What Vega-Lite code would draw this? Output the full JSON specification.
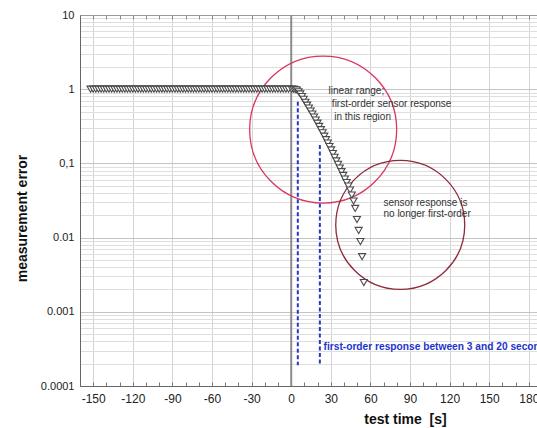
{
  "$schema": "https://vega.github.io/schema/vega-lite/v6.json",
  "width": 457,
  "height": 371,
  "autosize": {"type": "none"},
  "padding": {"left": 80, "top": 15, "right": 0, "bottom": 42},
  "background": "white",
  "config": {"font": "Liberation Sans", "view": {"stroke": null}},
  "datasets": {
    "zero": [{"t": 0}],
    "guides": [
      {"t": 5, "err": 0.678, "bottom": 0.00019},
      {"t": 21.7, "err": 0.177, "bottom": 0.00019}
    ],
    "rings": [
      {"name": "linear", "t": 24.2, "err": 0.286},
      {"name": "nonlinear", "t": 82.6, "err": 0.0148}
    ],
    "notes": [
      {"t": 28.3, "err": 0.955, "label": "linear range;"},
      {"t": 30.8, "err": 0.632, "label": "first-order sensor response"},
      {"t": 32.6, "err": 0.426, "label": "in this region"},
      {"t": 69.9, "err": 0.0295, "label": "sensor response is"},
      {"t": 69.9, "err": 0.0208, "label": "no longer first-order"}
    ],
    "bluenote": [
      {"t": 24.5, "err": 0.000339, "label": "first-order response between 3 and 20 seconds"}
    ],
    "series": [
      {"t": -152, "err": 1}, {"t": -150, "err": 1}, {"t": -148, "err": 1}, {"t": -146, "err": 1},
      {"t": -144, "err": 1}, {"t": -142, "err": 1}, {"t": -140, "err": 1}, {"t": -138, "err": 1},
      {"t": -136, "err": 1}, {"t": -134, "err": 1}, {"t": -132, "err": 1}, {"t": -130, "err": 1},
      {"t": -128, "err": 1}, {"t": -126, "err": 1}, {"t": -124, "err": 1}, {"t": -122, "err": 1},
      {"t": -120, "err": 1}, {"t": -118, "err": 1}, {"t": -116, "err": 1}, {"t": -114, "err": 1},
      {"t": -112, "err": 1}, {"t": -110, "err": 1}, {"t": -108, "err": 1}, {"t": -106, "err": 1},
      {"t": -104, "err": 1}, {"t": -102, "err": 1}, {"t": -100, "err": 1}, {"t": -98, "err": 1},
      {"t": -96, "err": 1}, {"t": -94, "err": 1}, {"t": -92, "err": 1}, {"t": -90, "err": 1},
      {"t": -88, "err": 1}, {"t": -86, "err": 1}, {"t": -84, "err": 1}, {"t": -82, "err": 1},
      {"t": -80, "err": 1}, {"t": -78, "err": 1}, {"t": -76, "err": 1}, {"t": -74, "err": 1},
      {"t": -72, "err": 1}, {"t": -70, "err": 1}, {"t": -68, "err": 1}, {"t": -66, "err": 1},
      {"t": -64, "err": 1}, {"t": -62, "err": 1}, {"t": -60, "err": 1}, {"t": -58, "err": 1},
      {"t": -56, "err": 1}, {"t": -54, "err": 1}, {"t": -52, "err": 1}, {"t": -50, "err": 1},
      {"t": -48, "err": 1}, {"t": -46, "err": 1}, {"t": -44, "err": 1}, {"t": -42, "err": 1},
      {"t": -40, "err": 1}, {"t": -38, "err": 1}, {"t": -36, "err": 1}, {"t": -34, "err": 1},
      {"t": -32, "err": 1}, {"t": -30, "err": 1}, {"t": -28, "err": 1}, {"t": -26, "err": 1},
      {"t": -24, "err": 1}, {"t": -22, "err": 1}, {"t": -20, "err": 1}, {"t": -18, "err": 1},
      {"t": -16, "err": 1}, {"t": -14, "err": 1}, {"t": -12, "err": 1}, {"t": -10, "err": 1},
      {"t": -8, "err": 1}, {"t": -6, "err": 1}, {"t": -4, "err": 1}, {"t": -2, "err": 1},
      {"t": 0.4, "err": 1}, {"t": 1.7, "err": 1}, {"t": 3.0, "err": 0.99}, {"t": 4.3, "err": 0.975},
      {"t": 5.6, "err": 0.923}, {"t": 6.9, "err": 0.862}, {"t": 8.2, "err": 0.795}, {"t": 9.5, "err": 0.729},
      {"t": 10.8, "err": 0.666}, {"t": 12.1, "err": 0.609}, {"t": 13.4, "err": 0.556}, {"t": 14.7, "err": 0.508},
      {"t": 16.0, "err": 0.463}, {"t": 17.3, "err": 0.422}, {"t": 18.6, "err": 0.383}, {"t": 19.9, "err": 0.348},
      {"t": 21.2, "err": 0.315}, {"t": 22.5, "err": 0.285}, {"t": 23.8, "err": 0.258}, {"t": 25.1, "err": 0.233},
      {"t": 26.4, "err": 0.209}, {"t": 27.7, "err": 0.188}, {"t": 29.0, "err": 0.169}, {"t": 30.3, "err": 0.152},
      {"t": 31.6, "err": 0.136}, {"t": 32.9, "err": 0.121}, {"t": 34.2, "err": 0.108}, {"t": 35.5, "err": 0.097},
      {"t": 36.8, "err": 0.0867}, {"t": 38.1, "err": 0.0773}, {"t": 39.4, "err": 0.0689}, {"t": 40.7, "err": 0.0614},
      {"t": 42.0, "err": 0.0553}, {"t": 43.3, "err": 0.0496}, {"t": 44.6, "err": 0.0438}, {"t": 45.9, "err": 0.0375},
      {"t": 47.2, "err": 0.0311}, {"t": 48.5, "err": 0.0247}, {"t": 49.8, "err": 0.01754}, {"t": 51.1, "err": 0.01247},
      {"t": 52.4, "err": 0.00886}, {"t": 53.7, "err": 0.00553}, {"t": 55.0, "err": 0.00248}
    ]
  },
  "encoding": {
    "y": {
      "field": "err", "type": "quantitative",
      "scale": {"type": "log", "domain": [0.0001, 10], "nice": false},
      "axis": {
        "orient": "left",
        "title": "measurement error",
        "values": [0.0001,0.0002,0.0003,0.0004,0.0005,0.0006,0.0007,0.0008,0.0009,0.001,0.002,0.003,0.004,0.005,0.006,0.007,0.008,0.009,0.01,0.02,0.03,0.04,0.05,0.06,0.07,0.08,0.09,0.1,0.2,0.3,0.4,0.5,0.6,0.7,0.8,0.9,1,2,3,4,5,6,7,8,9,10],
        "labelExpr": "abs(datum.value-10)<0.000000001 ? '10' : abs(datum.value-1)<0.000000001 ? '1' : abs(datum.value-0.1)<0.0000000001 ? '0,1' : abs(datum.value-0.01)<0.00000000001 ? '0.01' : abs(datum.value-0.001)<0.000000000001 ? '0.001' : abs(datum.value-0.0001)<0.0000000000001 ? '0.0001' : ''",
        "labelFontSize": 11,
        "labelColor": "#222222",
        "labelPadding": 6,
        "labelFlush": false,
        "labelOverlap": false,
        "ticks": false,
        "domainColor": "#666666",
        "grid": true,
        "gridColor": {"condition": {"test": "abs(log(datum.value)/LN10 - round(log(datum.value)/LN10)) < 0.001", "value": "#c4c4c4"}, "value": "#dedede"},
        "titleFontSize": 14,
        "titleFontWeight": "bold",
        "titleColor": "#111111",
        "titleX": -53.5,
        "titleY": 203,
        "titleBaseline": "alphabetic"
      }
    }
  },
  "layer": [
    {
      "data": {"name": "zero"},
      "mark": {"type": "rule", "color": "#8c8c8c", "strokeWidth": 2},
      "encoding": {
        "y": null,
        "x": {
          "field": "t", "type": "quantitative",
          "scale": {"type": "linear", "domain": [-160, 186.2], "nice": false, "zero": false},
          "axis": {
            "orient": "bottom",
            "title": "test time\u00a0 [s]",
            "values": [-160,-150,-140,-130,-120,-110,-100,-90,-80,-70,-60,-50,-40,-30,-20,-10,0,10,20,30,40,50,60,70,80,90,100,110,120,130,140,150,160,170,180],
            "labelExpr": "datum.value % 30 == 0 ? '' + datum.value : ''",
            "labelFontSize": 12,
            "labelColor": "#222222",
            "labelPadding": 11,
            "labelFlush": false,
            "labelOverlap": false,
            "tickSize": -4,
            "tickColor": "#777777",
            "domainColor": "#666666",
            "grid": true,
            "gridColor": "#d4d4d4",
            "gridOpacity": {"condition": {"test": "datum.value % 30 == 0", "value": 1}, "value": 0},
            "titleFontSize": 14,
            "titleFontWeight": "bold",
            "titleColor": "#111111",
            "titleX": 325,
            "titleY": 37.3,
            "titleBaseline": "alphabetic"
          }
        }
      }
    },
    {
      "data": {"name": "guides"},
      "mark": {"type": "rule", "color": "#2a35c8", "strokeWidth": 2, "strokeDash": [4, 2.5]},
      "encoding": {
        "x": {
          "field": "t", "type": "quantitative",
          "scale": {"type": "linear", "domain": [-160, 186.2], "nice": false, "zero": false},
          "axis": {
            "orient": "top",
            "title": null,
            "values": [-160,-150,-140,-130,-120,-110,-100,-90,-80,-70,-60,-50,-40,-30,-20,-10,0,10,20,30,40,50,60,70,80,90,100,110,120,130,140,150,160,170,180],
            "labels": false,
            "tickSize": -4,
            "tickColor": "#888888",
            "domainColor": "#999999",
            "grid": false
          }
        },
        "y2": {"field": "bottom"}
      }
    },
    {
      "data": {"name": "rings"},
      "transform": [{"filter": "datum.name == 'linear'"}],
      "mark": {"type": "point", "shape": "circle", "filled": false, "stroke": "#d8375d", "strokeWidth": 1.3, "size": 21609, "opacity": 1},
      "encoding": {
        "x": {"field": "t", "type": "quantitative", "scale": {"type": "linear", "domain": [-160, 186.2], "nice": false, "zero": false}, "axis": null}
      }
    },
    {
      "data": {"name": "rings"},
      "transform": [{"filter": "datum.name == 'nonlinear'"}],
      "mark": {"type": "point", "shape": "circle", "filled": false, "stroke": "#8e2a3a", "strokeWidth": 1.3, "size": 16641, "opacity": 1},
      "encoding": {
        "x": {"field": "t", "type": "quantitative", "scale": {"type": "linear", "domain": [-160, 186.2], "nice": false, "zero": false}, "axis": null}
      }
    },
    {
      "data": {"name": "series"},
      "mark": {"type": "point", "shape": "triangle-down", "filled": true, "fill": "#ffffff", "stroke": "#4a4a4a", "strokeWidth": 1.1, "size": 50, "opacity": 1},
      "encoding": {
        "x": {"field": "t", "type": "quantitative", "scale": {"type": "linear", "domain": [-160, 186.2], "nice": false, "zero": false}, "axis": null}
      }
    },
    {
      "data": {"name": "notes"},
      "mark": {"type": "text", "align": "left", "baseline": "middle", "fontSize": 10, "color": "#333333"},
      "encoding": {
        "x": {"field": "t", "type": "quantitative", "scale": {"type": "linear", "domain": [-160, 186.2], "nice": false, "zero": false}, "axis": null},
        "text": {"field": "label"}
      }
    },
    {
      "data": {"name": "bluenote"},
      "mark": {"type": "text", "align": "left", "baseline": "middle", "fontSize": 10.2, "fontWeight": "bold", "color": "#2233cc"},
      "encoding": {
        "x": {"field": "t", "type": "quantitative", "scale": {"type": "linear", "domain": [-160, 186.2], "nice": false, "zero": false}, "axis": null},
        "text": {"field": "label"}
      }
    }
  ]
}
